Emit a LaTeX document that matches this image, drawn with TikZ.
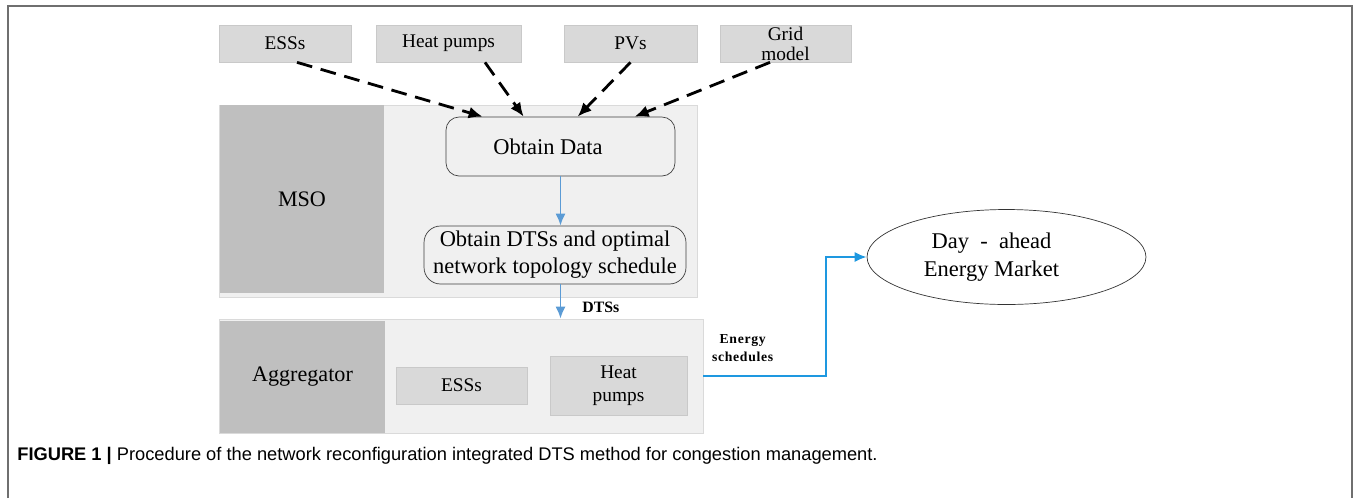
\documentclass[tikz,border=0pt]{standalone}
\usepackage{fontspec}
\setmainfont{Liberation Serif}
\newfontfamily\capfont{Liberation Sans}
\usetikzlibrary{arrows.meta,shapes.geometric}
\definecolor{boxgray}{HTML}{D9D9D9}
\definecolor{boxline}{HTML}{C9C9C9}
\definecolor{panelgray}{HTML}{F0F0F0}
\definecolor{panelline}{HTML}{DADADA}
\definecolor{sidegray}{HTML}{BFBFBF}
\definecolor{flowblue}{HTML}{5B9BD5}
\definecolor{schedblue}{HTML}{1E98E0}
\definecolor{framegray}{HTML}{6F6F6F}
\begin{document}
\begin{tikzpicture}[x=0.02cm, y=-0.02cm,
    graybox/.style={draw=boxline, fill=boxgray, inner sep=0pt, align=center, font=\fontsize{11}{11.5}\selectfont},
    panel/.style={draw=panelline, fill=panelgray, inner sep=0pt},
    side/.style={fill=sidegray, inner sep=0pt, font=\fontsize{12.6}{14}\selectfont},
    stepnode/.style={draw=black!75, fill=panelgray, rounded corners=0.26cm, inner sep=0pt, align=center, font=\fontsize{12.8}{15.4}\selectfont},
    feed/.style={line width=1.6pt, dash pattern=on 9pt off 5pt, -{Latex[length=2.8mm,width=2.4mm]}},
    flow/.style={draw=flowblue, line width=1pt, -{Latex[length=2.4mm,width=2mm]}}]
    \useasboundingbox (0,0) rectangle (1356,498);
    \draw[draw=framegray, line width=0.9pt] (8,498) -- (8,6) -- (1352,6) -- (1352,498);

    \node[graybox, minimum width=2.64cm, minimum height=0.74cm] (ess) at (285,43.5) {ESSs};
    \node[graybox, minimum width=2.9cm, minimum height=0.74cm] (hp) at (448.5,43.5) {Heat pumps};
    \node[graybox, minimum width=2.66cm, minimum height=0.74cm] (pv) at (630.5,43.5) {PVs};
    \node[graybox, minimum width=2.62cm, minimum height=0.74cm] (grid) at (785.5,43.5) {Grid\\model};

    \node[panel, minimum width=9.56cm, minimum height=3.84cm] (msopanel) at (458,201) {};
    \node[side, minimum width=3.28cm, minimum height=3.76cm] (mso) at (302,199) {MSO};
    \node[stepnode, minimum width=4.58cm, minimum height=1.18cm] (data) at (560.5,146.5) {Obtain Data\hspace{0.5cm}};
    \node[stepnode, rounded corners=0.33cm, minimum width=5.24cm, minimum height=1.16cm] (dts) at (555,255) {Obtain DTSs and optimal\\network topology schedule};

    \node[panel, minimum width=9.68cm, minimum height=2.28cm] (agg) at (461,376) {};
    \node[side, minimum width=3.3cm, minimum height=2.24cm] (aggname) at (302.5,377) {Aggregator};
    \node[graybox, minimum width=2.62cm, minimum height=0.74cm] (aggess) at (461.5,385.5) {ESSs};
    \node[graybox, minimum width=2.74cm, minimum height=1.18cm, font=\fontsize{11}{13}\selectfont] (agghp) at (618.5,385.5) {Heat\\pumps};

    \node[ellipse, draw=black!80, minimum width=5.58cm, minimum height=1.9cm, inner sep=0pt, align=center, font=\fontsize{12.8}{16}\selectfont] (market) at (1006.5,257) {Day\ \ -\ \ ahead\hspace*{0.6cm}\\Energy Market\hspace*{0.6cm}};

    \draw[feed] ([xshift=0.24cm]ess.south) -- ([xshift=0.74cm]data.north west);
    \draw[feed] ([xshift=0.73cm]hp.south) -- ([xshift=1.56cm]data.north west);
    \draw[feed] (pv.south) -- ([xshift=2.64cm]data.north west);
    \draw[feed] ([xshift=-0.31cm]grid.south) -- ([xshift=3.78cm]data.north west);

    \draw[flow] (data.south) -- (data.south |- dts.north);
    \draw[flow] (data.south |- dts.south) -- (data.south |- agg.north)
        node[pos=0.66, right=0.42cm, inner sep=0pt, text=black, font=\fontsize{9}{10}\selectfont\bfseries] (dtslabel) {DTSs};
    \draw[flow, draw=schedblue] (agg.east) -- ++(2.46cm,0)
        node[pos=0.32, yshift=0.56cm, inner sep=0pt, align=center, text=black, font=\fontsize{7.8}{10.2}\selectfont\bfseries\addfontfeature{LetterSpace=5}] (schedlabel) {Energy\\schedules}
        |- (market.west);

    \node[anchor=base west, inner sep=0pt, font=\capfont\fontsize{10.4}{12}\selectfont] (caption) at (17,460)
        {\textbf{FIGURE 1 |} Procedure of the network reconfiguration integrated DTS method for congestion management.};
\end{tikzpicture}
\end{document}
